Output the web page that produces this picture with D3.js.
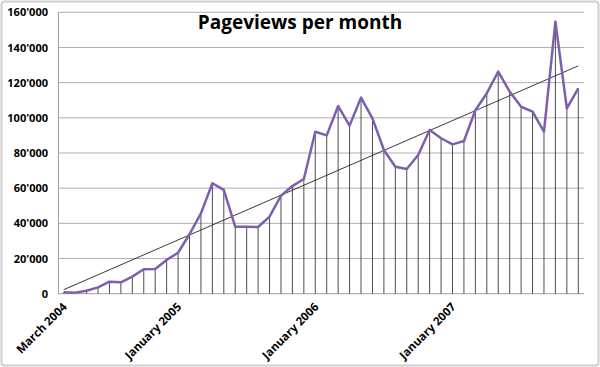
<!DOCTYPE html>
<html><head><meta charset="utf-8">
<script src="https://cdn.jsdelivr.net/npm/d3@7"></script>
<style>body{margin:0;background:#fff}svg{display:block}</style>
</head><body><svg id="c" width="600" height="367"></svg>
<script>
const months = d3.range(46).map(i => new Date(2004, 2 + i, 1));
const pageviews = [800, 500, 1700, 3600, 6800, 6500, 9700, 13900, 14000, 19200,
  23300, 33800, 45700, 62800, 59000, 38100, 38100, 37900, 43800, 55700,
  61200, 65200, 92100, 90000, 106700, 95600, 111500, 99700, 81700, 72200,
  70900, 78900, 93100, 88400, 84900, 86800, 104300, 114000, 126300, 114900,
  106300, 103500, 92100, 154700, 105400, 116800];
const yTicks = [0, 20000, 40000, 60000, 80000, 100000, 120000, 140000, 160000];
const xLabelIdx = [0, 10, 22, 34];
const fmt = d3.timeFormat("%B %Y");

const svg = d3.select("#c");
const L = 58, R = 584, T = 12.3, B = 293.7;
const font = "'Open Sans', 'Liberation Sans', sans-serif";

svg.append("rect").attr("x", 1.5).attr("y", 1.5).attr("width", 597).attr("height", 364)
  .attr("rx", 3).attr("fill", "#fff").attr("stroke", "#d0d0d0").attr("stroke-width", 2);

const x = d3.scaleBand().domain(d3.range(46)).range([L, R]);
const cx = i => x(i) + x.bandwidth() / 2;
const y = d3.scaleLinear().domain([0, 160000]).range([B, T]);

// gridlines
svg.append("g").selectAll("line").data(yTicks.slice(1)).join("line")
  .attr("x1", L).attr("x2", R).attr("y1", d => y(d)).attr("y2", d => y(d))
  .attr("stroke", "#b0b0b0").attr("stroke-width", 1);

// y axis
const yAxis = svg.append("g").attr("transform", `translate(${L},0)`)
  .call(d3.axisLeft(y).tickValues(yTicks).tickSize(0).tickPadding(10)
    .tickFormat(d => d3.format(",")(d).replace(/,/g, "'")));
yAxis.select(".domain").attr("stroke", "#a0a0a0");
yAxis.selectAll("text").attr("font-family", font).attr("font-weight", "bold")
  .attr("font-size", 11).attr("fill", "#000");

// x axis line
svg.append("line").attr("x1", L).attr("x2", R).attr("y1", B).attr("y2", B)
  .attr("stroke", "#a0a0a0");

// drop lines
svg.append("g").selectAll("line").data(pageviews).join("line")
  .attr("x1", (d, i) => cx(i)).attr("x2", (d, i) => cx(i))
  .attr("y1", d => y(d)).attr("y2", B)
  .attr("stroke", "#3a3a3a").attr("stroke-width", 0.9);

// trendline (least squares)
const n = pageviews.length;
const mx = d3.mean(d3.range(n)), my = d3.mean(pageviews);
const slope = d3.sum(pageviews, (v, i) => (i - mx) * (v - my)) / d3.sum(d3.range(n), i => (i - mx) ** 2);
const icpt = my - slope * mx;
svg.append("line").attr("x1", cx(0)).attr("x2", cx(n - 1))
  .attr("y1", y(icpt)).attr("y2", y(icpt + slope * (n - 1)))
  .attr("stroke", "#222").attr("stroke-width", 0.9);

// series line
svg.append("path").datum(pageviews)
  .attr("d", d3.line().x((d, i) => cx(i)).y(d => y(d)))
  .attr("fill", "none").attr("stroke", "#7d5fae").attr("stroke-width", 2.5)
  .attr("stroke-linejoin", "round");

// x labels
svg.append("g").selectAll("text").data(xLabelIdx).join("text")
  .attr("transform", i => `translate(${cx(i) + 4},${B + 14}) rotate(-45)`)
  .attr("text-anchor", "end").attr("font-family", font).attr("font-weight", "bold")
  .attr("font-size", 11.5).attr("fill", "#000")
  .text(i => fmt(months[i]));

// title
svg.append("text").attr("x", 300).attr("y", 29).attr("text-anchor", "middle")
  .attr("font-family", font).attr("font-weight", "bold").attr("font-size", 19)
  .attr("fill", "#000").text("Pageviews per month");
</script></body></html>
